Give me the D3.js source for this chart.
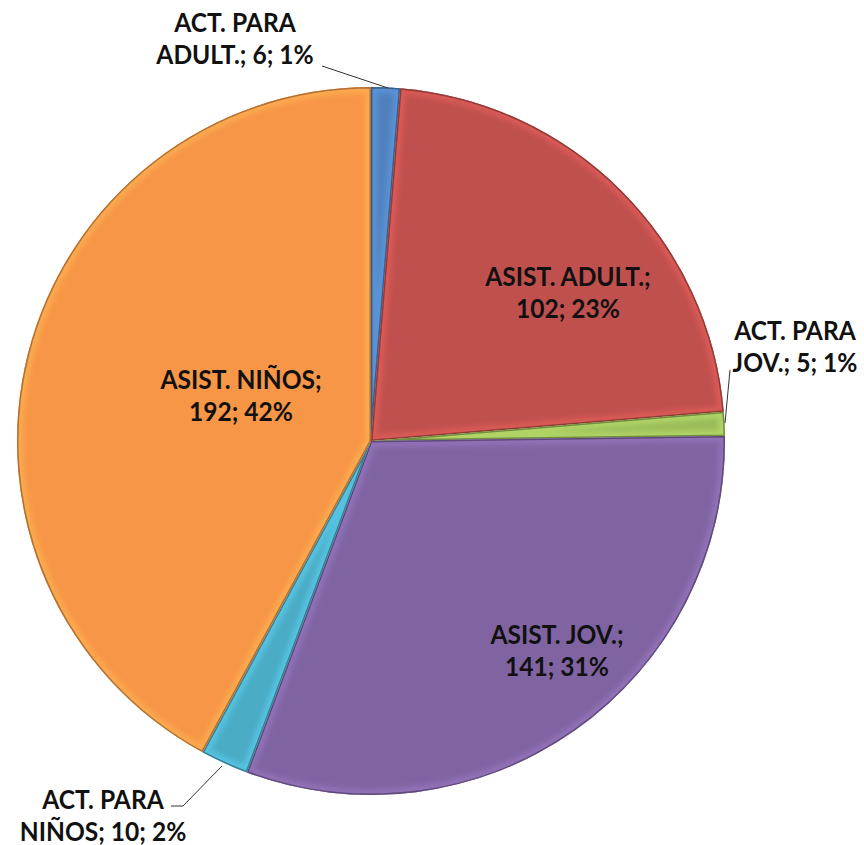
<!DOCTYPE html>
<html>
<head>
<meta charset="utf-8">
<script src="https://cdn.jsdelivr.net/npm/d3@7"></script>
<style>
  body { margin: 0; background: #fff; }
  svg text { font-family: Lato, "Open Sans", sans-serif; font-weight: bold; fill: #111; }
</style>
</head>
<body>
<div id="chart"></div>
<script>
// data, clockwise from 12 o'clock
const categories = ["ACT. PARA ADULT.", "ASIST. ADULT.", "ACT. PARA JOV.", "ASIST. JOV.", "ACT. PARA NIÑOS", "ASIST. NIÑOS"];
const values = [6, 102, 5, 141, 10, 192];
const percents = ["1%", "23%", "1%", "31%", "2%", "42%"];
const colors = ["#4F81BD", "#C0504D", "#9BBB59", "#8064A2", "#4BACC6", "#F79646"];

// label lines (how excel wrapped them)
const labelLines = [
  ["ACT. PARA", "ADULT.; 6; 1%"],
  ["ASIST. ADULT.;", "102; 23%"],
  ["ACT. PARA", "JOV.; 5; 1%"],
  ["ASIST. JOV.;", "141; 31%"],
  ["ACT. PARA", "NIÑOS; 10; 2%"],
  ["ASIST. NIÑOS;", "192; 42%"]
];

const W = 864, H = 845;
const CX = 371, CY = 441, R = 354;
const FONT = 27;
const LINE_H = 32;
const SQUEEZE = 0.91; // calibri is narrower than lato

const data = categories.map((c, i) => ({ name: c, value: values[i], pct: percents[i], color: colors[i], lines: labelLines[i] }));

const svg = d3.select("#chart").append("svg").attr("width", W).attr("height", H);
const defs = svg.append("defs");

const blur = defs.append("filter").attr("id", "soft").attr("x", "-10%").attr("y", "-10%").attr("width", "120%").attr("height", "120%");
blur.append("feGaussianBlur").attr("stdDeviation", 2.5);

const pie = d3.pie().value(d => d.value).sort(null);
const arcs = pie(data);
const arc = d3.arc().innerRadius(0).outerRadius(R);

const g = svg.append("g").attr("transform", `translate(${CX},${CY})`);

const slice = g.selectAll("g.slice").data(arcs).enter().append("g").attr("class", "slice");

slice.append("clipPath").attr("id", (d, i) => "clip" + i)
  .append("path").attr("d", arc);

slice.append("path")
  .attr("d", arc)
  .attr("fill", d => d.data.color);

// bevel: light inner edge, dark outer edge
slice.append("path")
  .attr("d", arc)
  .attr("fill", "none")
  .attr("clip-path", (d, i) => `url(#clip${i})`)
  .attr("stroke", d => d3.color(d.data.color).brighter(0.6))
  .attr("stroke-width", 12)
  .attr("stroke-opacity", 0.55)
  .attr("filter", "url(#soft)");

slice.append("path")
  .attr("d", arc)
  .attr("fill", "none")
  .attr("clip-path", (d, i) => `url(#clip${i})`)
  .attr("stroke", d => d3.color(d.data.color).darker(1.2))
  .attr("stroke-width", 3)
  .attr("stroke-opacity", 0.8);

// label positions: inside for the big ones, outside with leaders for the small ones
const labelPos = [
  { x: 235 - CX, y: 32 - CY, leader: [[322, 66], [388, 88]] },
  { x: 568 - CX, y: 286 - CY },
  { x: 795 - CX, y: 340 - CY, leader: [[730, 370], [725, 423]] },
  { x: 557 - CX, y: 644 - CY },
  { x: 103 - CX, y: 809 - CY, leader: [[171, 806], [183, 806], [222, 766]] },
  { x: 241 - CX, y: 389 - CY }
];

const line = d3.line();
arcs.forEach((a, i) => {
  const p = labelPos[i];
  if (p.leader) {
    g.append("path")
      .attr("d", line(p.leader.map(q => [q[0] - CX, q[1] - CY])))
      .attr("fill", "none")
      .attr("stroke", "#333")
      .attr("stroke-width", 1);
  }
  const t = g.append("text")
    .attr("text-anchor", "middle")
    .attr("font-size", FONT)
    .attr("transform", `translate(${p.x},${p.y}) scale(${SQUEEZE},1)`);
  a.data.lines.forEach((l, k) => {
    t.append("tspan").attr("x", 0).attr("dy", k === 0 ? 0 : LINE_H).text(l);
  });
});
</script>
</body>
</html>
